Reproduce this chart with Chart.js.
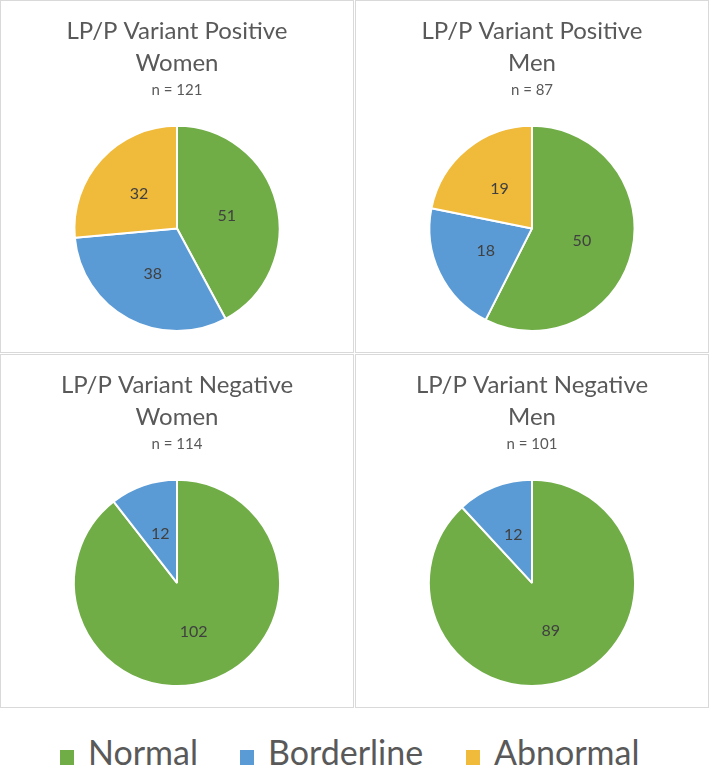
<!DOCTYPE html>
<html>
<head>
<meta charset="utf-8">
<script src="https://cdn.jsdelivr.net/npm/chart.js@4.4.1/dist/chart.umd.min.js"></script>
<style>
  body { margin: 0; background: #fff; width: 709px; height: 770px; position: relative; overflow: hidden; font-family: Lato, "Open Sans", sans-serif; }
  .panel { position: absolute; border: 1px solid #d9d9d9; box-sizing: border-box; background: #fff; }
  .panel canvas { display: block; }
  #legend { position: absolute; left: 0; top: 726px; width: 709px; height: 52px; }
  .item { position: absolute; top: 0; font-size: 34px; color: #595959; line-height: 52px; white-space: nowrap; }
  .swatch { display: inline-block; width: 14px; height: 15px; margin-right: 14px; vertical-align: baseline; }
</style>
</head>
<body>
<div class="panel" style="left:0;top:0;width:354px;height:353px"><canvas id="c1"></canvas></div>
<div class="panel" style="left:355px;top:0;width:354px;height:353px"><canvas id="c2"></canvas></div>
<div class="panel" style="left:0;top:354px;width:354px;height:354px"><canvas id="c3"></canvas></div>
<div class="panel" style="left:355px;top:354px;width:354px;height:354px"><canvas id="c4"></canvas></div>
<div id="legend"></div>
<script>
const categories = ["Normal", "Borderline", "Abnormal"];
const colors = ["#70ad47", "#5b9bd5", "#f0ba3a"];

const posWomen = [51, 38, 32];
const posMen = [50, 18, 19];
const negWomen = [102, 12, 0];
const negMen = [89, 12, 0];

const charts = [
  { id: "c1", title: ["LP/P Variant Positive", "Women"], n: "n = 121", data: posWomen },
  { id: "c2", title: ["LP/P Variant Positive", "Men"], n: "n = 87", data: posMen },
  { id: "c3", title: ["LP/P Variant Negative", "Women"], n: "n = 114", data: negWomen },
  { id: "c4", title: ["LP/P Variant Negative", "Men"], n: "n = 101", data: negMen },
];

// labels in the middle of each slice
const sliceLabels = {
  id: "sliceLabels",
  afterDatasetsDraw(chart) {
    const ctx = chart.ctx;
    const meta = chart.getDatasetMeta(0);
    const values = chart.data.datasets[0].data;
    ctx.save();
    ctx.font = "16px Lato, 'Open Sans', sans-serif";
    ctx.fillStyle = "#404040";
    ctx.textAlign = "center";
    ctx.textBaseline = "middle";
    meta.data.forEach((arc, i) => {
      if (!values[i]) return;
      const p = arc.tooltipPosition();
      ctx.fillText(values[i], p.x, p.y);
    });
    ctx.restore();
  },
};

charts.forEach((c) => {
  const el = document.getElementById(c.id);
  const box = el.parentElement;
  el.width = box.clientWidth;
  el.height = box.clientHeight;
  new Chart(el, {
    type: "pie",
    data: {
      labels: categories,
      datasets: [
        {
          data: c.data,
          backgroundColor: colors,
          borderColor: "#ffffff",
          borderWidth: 2,
        },
      ],
    },
    options: {
      responsive: false,
      animation: false,
      layout: { padding: { top: 0, bottom: 20, left: 0, right: 0 } },
      plugins: {
        legend: { display: false },
        tooltip: { enabled: false },
        title: {
          display: true,
          text: c.title,
          color: "#595959",
          font: { family: "Lato, 'Open Sans', sans-serif", size: 24, weight: "normal", lineHeight: 1.33 },
          padding: { top: 14, bottom: 2 },
        },
        subtitle: {
          display: true,
          text: c.n,
          color: "#595959",
          font: { family: "Lato, 'Open Sans', sans-serif", size: 15, weight: "normal", lineHeight: 1.2 },
          padding: { top: 0, bottom: 26 },
        },
      },
    },
    plugins: [sliceLabels],
  });
});

// legend
const legendX = [60, 240, 466];
const legend = document.getElementById("legend");
categories.forEach((name, i) => {
  const item = document.createElement("div");
  item.className = "item";
  item.style.left = legendX[i] + "px";
  item.innerHTML = '<span class="swatch" style="background:' + colors[i] + '"></span>' + name;
  legend.appendChild(item);
});
</script>
</body>
</html>
